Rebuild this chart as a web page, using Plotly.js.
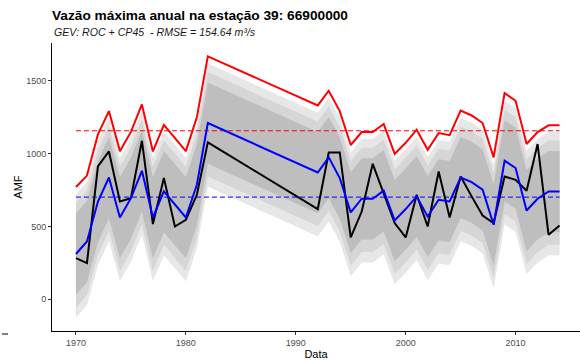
<!DOCTYPE html>
<html>
<head>
<meta charset="utf-8">
<script src="https://cdn.plot.ly/plotly-3.0.1.min.js"></script>
<style>html,body{margin:0;padding:0;background:#fff;}#chart{width:580px;height:361px;}</style>
</head>
<body>
<div id="chart"></div>
<script>
const years = [1970,1971,1972,1973,1974,1975,1976,1977,1978,1979,1980,1981,1982,
  1992,1993,1994,1995,1996,1997,1998,1999,2000,2001,2002,2003,2004,2005,2006,2007,2008,2009,2010,2011,2012,2013,2014];

// observed annual maxima (black)
const observed = [283,249,913,1016,672,695,1089,517,833,500,546,718,1078,
  620,1009,1009,425,603,931,727,524,425,718,500,878,562,844,707,576,524,844,821,746,1067,443,507];

// fitted median (blue)
const fitted = [311,397,672,837,562,695,883,562,741,649,562,787,1211,
  871,975,833,597,691,691,746,542,620,707,569,684,672,837,805,753,512,952,902,610,691,741,741];

// upper curve (red)
const upper = [772,850,1133,1293,1018,1150,1339,1016,1199,1112,1018,1250,1669,
  1332,1433,1293,1060,1149,1149,1204,999,1075,1165,1027,1142,1128,1296,1263,1211,975,1417,1364,1067,1149,1195,1195];

// gray bands
const lightLo = [-127,-41,234,399,124,257,445,124,303,211,124,349,773,
  433,537,395,159,253,253,308,104,182,269,131,246,234,399,367,315,74,514,464,172,253,303,303];
const lightHi = [721,807,1082,1247,972,1105,1293,972,1151,1059,972,1197,1621,
  1281,1385,1243,1007,1101,1101,1156,952,1030,1117,979,1094,1082,1247,1215,1163,922,1362,1312,1020,1101,1151,1151];
const medLo = [-56,30,305,470,195,328,516,195,374,282,195,420,844,
  504,608,466,230,324,324,379,175,253,340,202,317,305,470,438,386,145,585,535,243,324,374,374];
const medHi = [661,747,1022,1187,912,1045,1233,912,1091,999,912,1137,1561,
  1221,1325,1183,947,1041,1041,1096,892,970,1057,919,1034,1022,1187,1155,1103,862,1302,1252,960,1041,1091,1091];
const darkLo = [31,117,392,557,282,415,603,282,461,369,282,507,931,
  591,695,553,317,411,411,466,262,340,427,289,404,392,557,525,473,232,672,622,330,411,461,461];
const darkHi = [589,675,950,1115,840,973,1161,840,1019,927,840,1065,1489,
  1149,1253,1111,875,969,969,1024,820,898,985,847,962,950,1115,1083,1031,790,1230,1180,888,969,1019,1019];

// reference levels (dashed)
const upperMean = 1158;
const fittedMean = 702;
const dashYears = [1970, 2014];

const titleText = "Vazão máxima anual na estação 39: 66900000";
const subtitleText = "GEV: ROC + CP45&nbsp; - RMSE = 154.64 m³/s";
const xTicks = [1970,1980,1990,2000,2010];
const yTicks = [0,500,1000,1500];

const font = "Liberation Sans, Arial, Helvetica, sans-serif";

function band(lo, hi, color){
  return [
    {x: years, y: lo, type:'scatter', mode:'lines', line:{width:0, color:color}, hoverinfo:'skip', showlegend:false},
    {x: years, y: hi, type:'scatter', mode:'lines', fill:'tonexty', fillcolor:color, line:{width:0, color:color}, hoverinfo:'skip', showlegend:false}
  ];
}

const traces = [].concat(
  band(lightLo, lightHi, '#e7e7e7'),
  band(medLo, medHi, '#d6d6d6'),
  band(darkLo, darkHi, '#bebebe'),
  [
    {x: dashYears, y: [upperMean, upperMean], type:'scatter', mode:'lines', line:{color:'#ff0000', width:1, dash:'5px,3px'}, showlegend:false},
    {x: dashYears, y: [fittedMean, fittedMean], type:'scatter', mode:'lines', line:{color:'#0000ff', width:1, dash:'5px,3px'}, showlegend:false},
    {x: years, y: upper, type:'scatter', mode:'lines', line:{color:'#ff0000', width:2}, showlegend:false},
    {x: years, y: observed, type:'scatter', mode:'lines', line:{color:'#000000', width:2}, showlegend:false},
    {x: years, y: fitted, type:'scatter', mode:'lines', line:{color:'#0000ff', width:2}, showlegend:false}
  ]
);

const layout = {
  width: 580, height: 361,
  margin: {l:52, r:0, t:43, b:30, pad:0},
  paper_bgcolor:'#ffffff', plot_bgcolor:'#ffffff',
  font: {family: font, color:'#000'},
  showlegend: false,
  title: {text: '<b>' + titleText + '</b>', font:{family:font, size:13.7, color:'#000'},
          x: 52/580, xanchor:'left', xref:'container', y: 1 - 15/361, yanchor:'middle', yref:'container'},
  annotations: [
    {text: '<i>' + subtitleText + '</i>', xref:'paper', yref:'paper', x:0, y:1, xanchor:'left', yanchor:'middle',
     yshift: 11, showarrow:false, font:{family:font, size:10.6, color:'#1a1a1a'}}
  ],
  shapes: [
    {type:'line', xref:'paper', yref:'paper', x0:(2-52)/528, x1:(8-52)/528, y0:-3/288, y1:-3/288, line:{color:'#000', width:1}}
  ],
  xaxis: {
    range: [1967.82, 2015.86], tickvals: xTicks, ticktext: xTicks.map(String),
    showgrid:false, zeroline:false, showline:true, linecolor:'#000', linewidth:1,
    ticks:'outside', ticklen:3, tickwidth:1, tickcolor:'#333',
    tickfont:{family:font, size:9, color:'#4d4d4d'},
    title:{text:'Data', font:{family:font, size:11, color:'#000'}, standoff:2}
  },
  yaxis: {
    range: [-218, 1761], tickvals: yTicks, ticktext: yTicks.map(String),
    showgrid:false, zeroline:false, showline:true, linecolor:'#000', linewidth:1,
    ticks:'outside', ticklen:3, tickwidth:1, tickcolor:'#333',
    tickfont:{family:font, size:9, color:'#4d4d4d'},
    title:{text:'AMF', font:{family:font, size:11, color:'#000'}, standoff:1}
  }
};

Plotly.newPlot('chart', traces, layout, {staticPlot:true, displayModeBar:false});
</script>
</body>
</html>
